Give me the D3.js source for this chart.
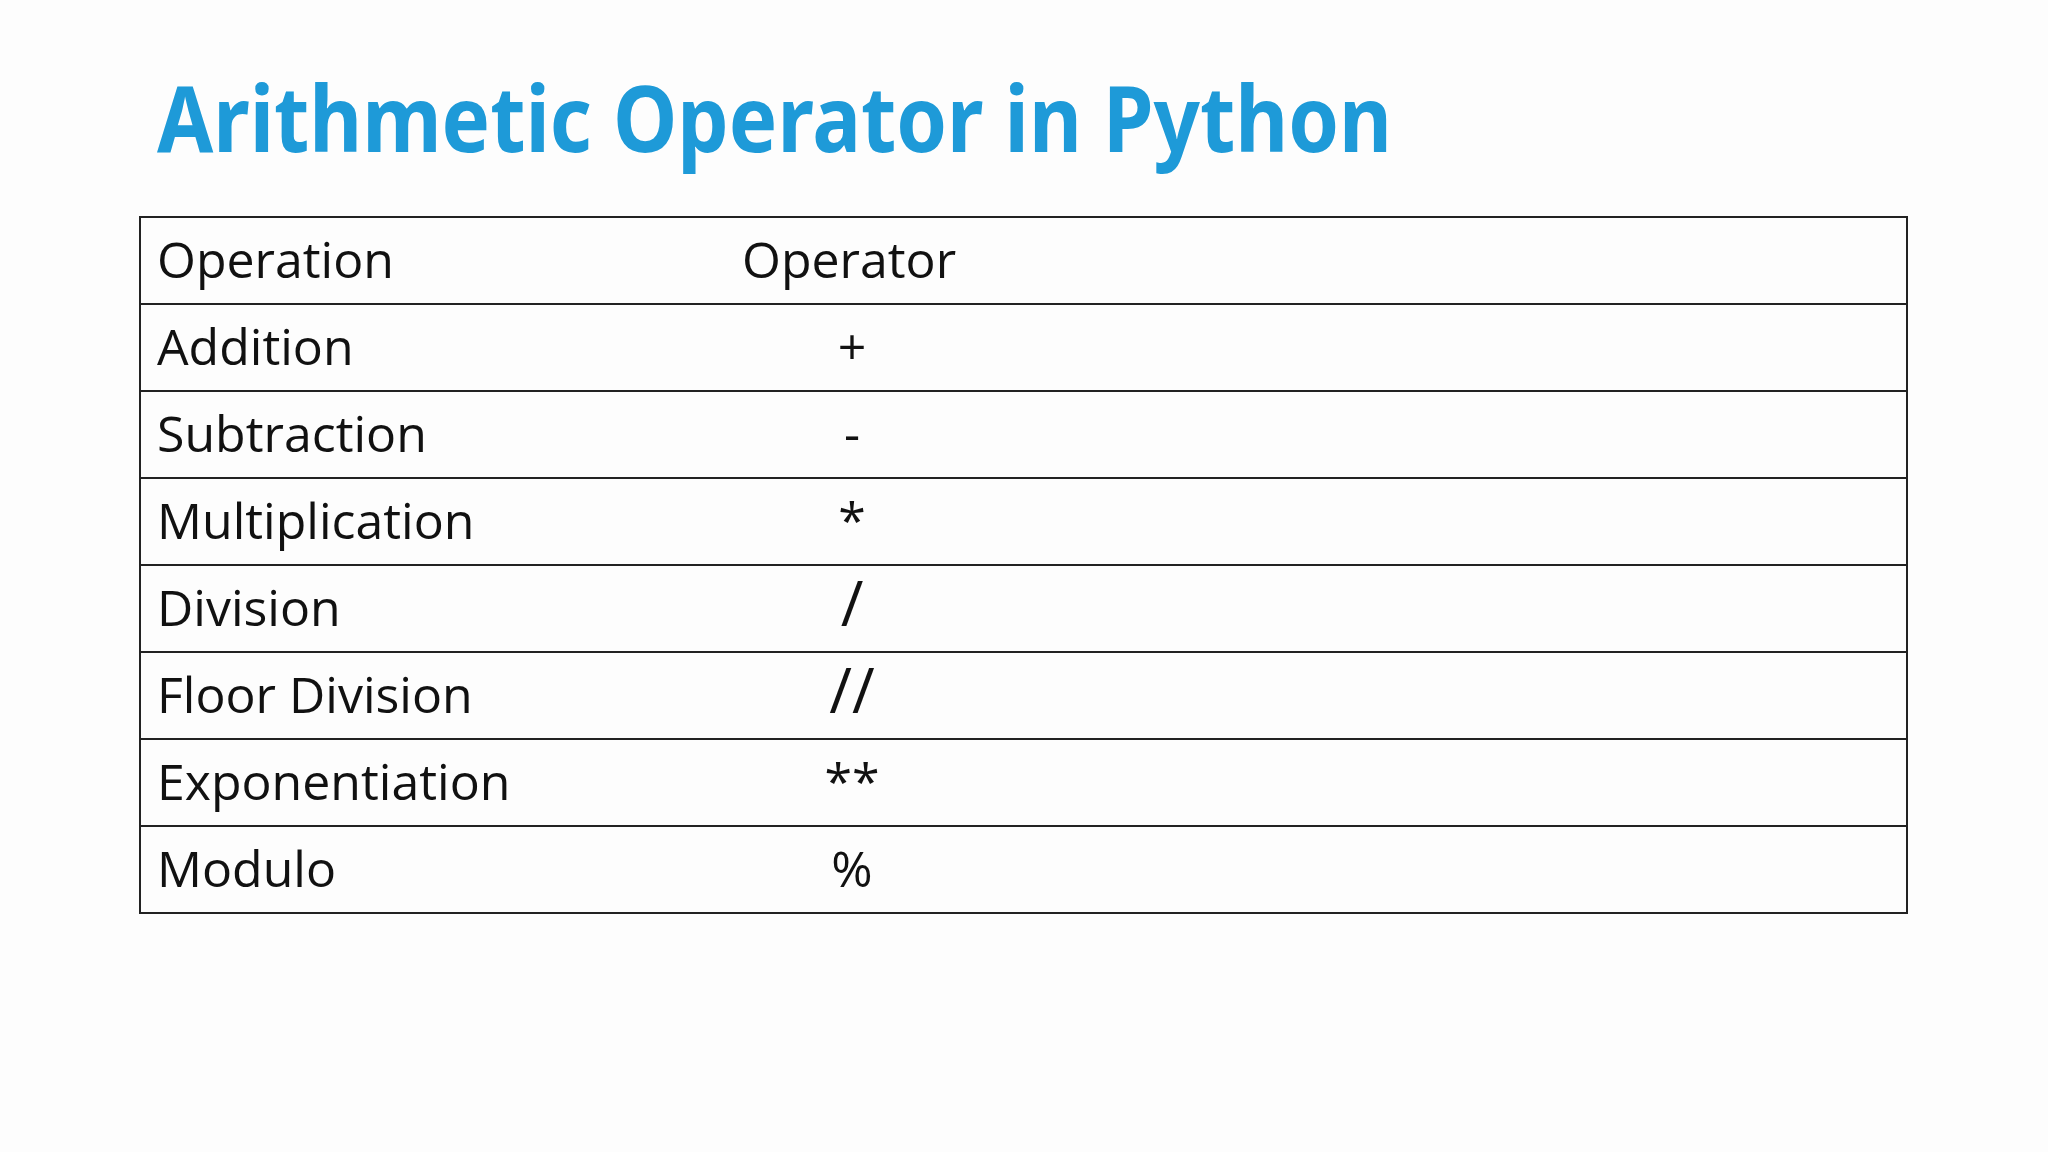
<!DOCTYPE html>
<html><head><meta charset="utf-8">
<script src="https://cdn.jsdelivr.net/npm/d3@7"></script>
<style>html,body{margin:0;padding:0;background:#fff;}</style>
</head><body>
<svg id="c" width="2048" height="1152"></svg>
<script>
const title = "Arithmetic Operator in Python";
const headers = ["Operation", "Operator"];
const operations = ["Addition","Subtraction","Multiplication","Division","Floor Division","Exponentiation","Modulo"];
const operators = ["+","-","*","/","//","**","%"];

(function(){
const svg = d3.select("#c");
svg.append("rect").attr("width",2048).attr("height",1152).attr("fill","#fdfdfd");
svg.append("text").text(title)
  .attr("x",157).attr("y",152)
  .attr("font-family","'Noto Sans', sans-serif").attr("font-weight","bold")
  .attr("font-size",92).attr("fill","#1e9ad8")
  .attr("textLength",1235).attr("lengthAdjust","spacingAndGlyphs");

const rows = [headers].concat(operations.map((o,i)=>[o,operators[i]]));
const tLeft=140, tRight=1907, tTop=217, tBottom=913;
const y = d3.scaleBand().domain(d3.range(rows.length)).range([tTop,tBottom]);
const g = svg.append("g");
g.append("rect").attr("x",tLeft).attr("y",tTop).attr("width",tRight-tLeft).attr("height",tBottom-tTop)
  .attr("fill","none").attr("stroke","#222").attr("stroke-width",2);
g.selectAll("line.r").data(d3.range(1,rows.length)).join("line")
  .attr("x1",tLeft).attr("x2",tRight).attr("y1",d=>y(d)).attr("y2",d=>y(d))
  .attr("stroke","#222").attr("stroke-width",2);
const font="'Open Sans', 'Noto Sans', sans-serif";
g.selectAll("text.a").data(rows).join("text")
  .attr("x",157).attr("y",(d,i)=>y(i)+y.bandwidth()/2+17)
  .attr("font-family",font).attr("font-size",50).attr("fill","#111")
  .text(d=>d[0]);
g.selectAll("text.b").data(rows).join("text")
  .attr("x",(d,i)=>i===0?742:852).attr("text-anchor",(d,i)=>i===0?"start":"middle")
  .attr("y",(d,i)=>y(i)+y.bandwidth()/2+17)
  .attr("font-family",font).attr("font-size",(d,i)=>i===0?50:(["/","//"].includes(d[1])?62:50)).attr("fill","#111")
  .text(d=>d[1]);
})();
</script>
</body></html>
